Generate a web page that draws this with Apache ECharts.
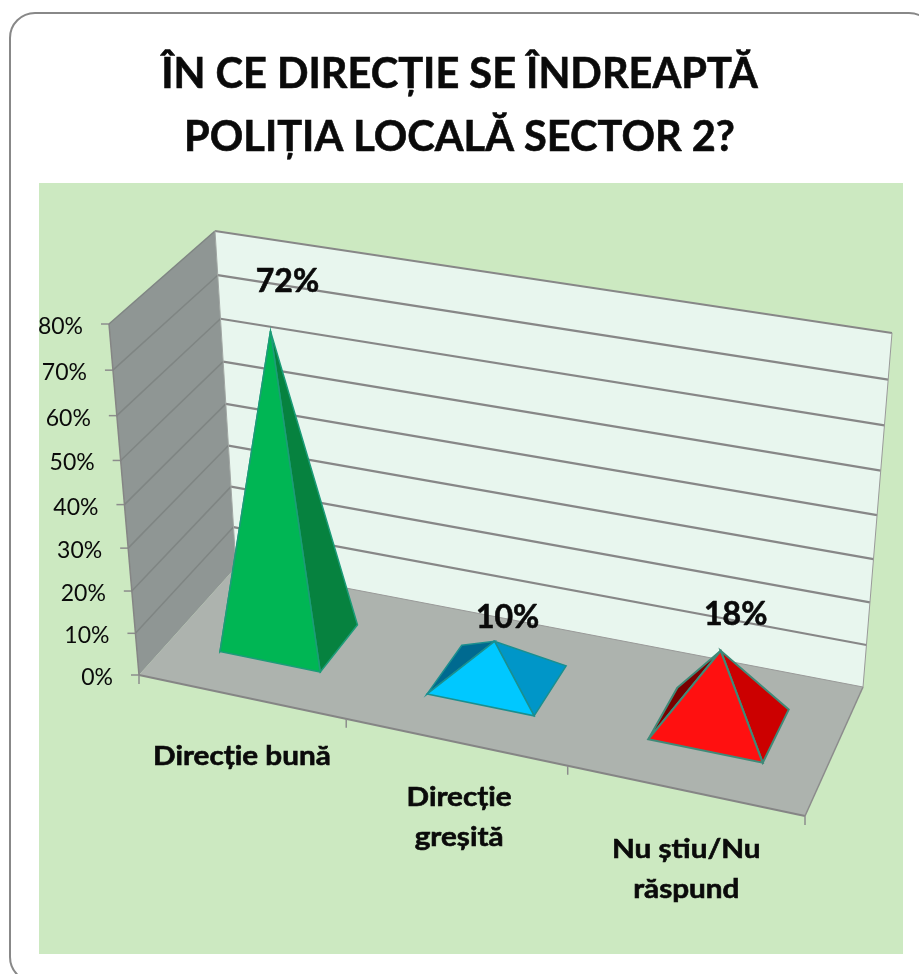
<!DOCTYPE html>
<html>
<head>
<meta charset="utf-8">
<style>
html, body { margin: 0; padding: 0; background: #fff; }
#chart { width: 919px; height: 974px; }
</style>
<script src="https://cdn.jsdelivr.net/npm/echarts@6/dist/echarts.min.js"></script>
</head>
<body>
<div id="chart"></div>
<script>
const categories = ['Direcție bună', 'Direcție\ngreșită', 'Nu știu/Nu\nrăspund'];
const values = [72, 10, 18];
const axisTicks = [0, 10, 20, 30, 40, 50, 60, 70, 80];
const titleText = 'ÎN CE DIRECȚIE SE ÎNDREAPTĂ\nPOLIȚIA LOCALĂ SECTOR 2?';

const font = 'Lato, "Noto Sans", sans-serif';
const frontColors = ['#00B654', '#00C8FF', '#FF1010'];
const sideColors = ['#06823F', '#0096C8', '#CC0000'];
const backColors = ['#05703A', '#006A90', '#7A0000'];
const edgeColors = ['#1C9C78', '#1A8F8F', '#3F8A78'];
const edgeWidths = [1.5, 1.5, 2];

// where the value labels and category labels sit relative to their anchor
const valueLabelShift = [[17, -50], [13, -24], [15, -36]];
const categoryLabelShift = [[1, 60], [4, 76], [2, 79]];

const chartDom = document.getElementById('chart');
const chart = echarts.init(chartDom);

// hidden cartesian grid, it only supplies the scales
const gridLeft = 100, gridTop = 324, gridWidth = 720, gridHeight = 351;

// box corners on screen, front-left, front-right, back-right, back-left
const floorQuad = [[139, 675], [805, 816], [863, 687], [236, 567]];
const topQuad = [[109, 324], [830, 445], [892, 333], [215, 231]];
const heightPerspective = 0.06;

function homography(q) {
    const dx1 = q[1][0] - q[2][0], dx2 = q[3][0] - q[2][0], sx = q[0][0] - q[1][0] + q[2][0] - q[3][0];
    const dy1 = q[1][1] - q[2][1], dy2 = q[3][1] - q[2][1], sy = q[0][1] - q[1][1] + q[2][1] - q[3][1];
    const den = dx1 * dy2 - dx2 * dy1;
    const g = (sx * dy2 - dx2 * sy) / den, h = (dx1 * sy - sx * dy1) / den;
    const a = q[1][0] - q[0][0] + g * q[1][0], b = q[3][0] - q[0][0] + h * q[3][0];
    const d = q[1][1] - q[0][1] + g * q[1][1], e = q[3][1] - q[0][1] + h * q[3][1];
    return (u, w) => {
        const n = g * u + h * w + 1;
        return [(a * u + b * w + q[0][0]) / n, (d * u + e * w + q[0][1]) / n];
    };
}
const floorAt = homography(floorQuad);
const topAt = homography(topQuad);

// u across the categories, w into the depth, v up the value axis (all 0..1)
function project(u, w, v) {
    const f = floorAt(u, w), t = topAt(u, w);
    const lift = v / (1 + heightPerspective * (1 - v));
    return [f[0] + (t[0] - f[0]) * lift, f[1] + (t[1] - f[1]) * lift];
}

function poly(points, fill, stroke, width) {
    return { type: 'polygon', shape: { points: points }, style: { fill: fill, stroke: stroke, lineWidth: width || 0 } };
}
function line(a, b, color, width) {
    return { type: 'line', shape: { x1: a[0], y1: a[1], x2: b[0], y2: b[1] }, style: { stroke: color, lineWidth: width, fill: null } };
}
function label(text, x, y, size, weight, align, stretch) {
    const bold = weight === 'bold';
    return {
        type: 'text', x: x, y: y, scaleX: stretch || 1,
        style: {
            text: text, fill: '#0a0a0a', font: weight + ' ' + size + 'px ' + font, align: align || 'center', verticalAlign: 'middle', lineHeight: 40,
            stroke: bold ? '#0a0a0a' : null, lineWidth: bold ? 0.6 : 0
        }
    };
}

// convert a value through the y axis into 0..1 height
function heightOf(api, val) {
    return (gridTop + gridHeight - api.coord([0, val])[1]) / gridHeight;
}
function acrossOf(api, idx) {
    return (api.coord([idx, 0])[0] - gridLeft) / gridWidth;
}

function renderBox(params, api) {
    const kids = [];
    kids.push(poly([project(0, 0, 0), project(0, 1, 0), project(0, 1, 1), project(0, 0, 1)], '#8F9694'));
    kids.push(poly([project(0, 1, 0), project(1, 1, 0), project(1, 1, 1), project(0, 1, 1)], '#E8F6EE'));
    kids.push(poly([project(0, 0, 0), project(1, 0, 0), project(1, 1, 0), project(0, 1, 0)], '#ADB3AE'));

    axisTicks.forEach(function (t) {
        const v = heightOf(api, t);
        if (t > 0) {
            kids.push(line(project(0, 0, v), project(0, 1, v), '#7F8583', 1.5));
            kids.push(line(project(0, 1, v), project(1, 1, v), '#878787', 2.2));
        }
        const p = project(0, 0, v);
        kids.push(line([p[0] - 8, p[1]], p, '#8C8C8C', 1.5));
        kids.push(label(t + '%', p[0] - 26, p[1] + 2.5, 23, 'normal', 'right'));
    });

    // outline
    kids.push(line(project(0, 0, 0), project(0, 0, 1), '#858585', 1.5));
    kids.push(line(project(0, 1, 0), project(0, 1, 1), '#A0A5A3', 1));
    kids.push(line(project(1, 1, 0), project(1, 1, 1), '#9A9A9A', 1));
    kids.push(line(project(0, 0, 0), project(1, 0, 0), '#858585', 2));
    kids.push(line(project(1, 0, 0), project(1, 1, 0), '#8C8C8C', 1.5));
    kids.push(line(project(0, 1, 0), project(1, 1, 0), '#9A9A9A', 1));

    // ticks under the front edge
    for (let k = 0; k <= categories.length; k++) {
        const p = project(k / categories.length, 0, 0);
        kids.push(line(p, [p[0], p[1] + 9], '#8C8C8C', 1.5));
    }
    return { type: 'group', children: kids };
}

const halfAcross = 0.082, depthStart = 0.3, depthEnd = 0.72, tipDepth = 0.48;

function renderPyramid(params, api) {
    const i = params.dataIndex;
    const u = acrossOf(api, i);
    const v = heightOf(api, api.value(1));
    const fl = project(u - halfAcross, depthStart, 0), fr = project(u + halfAcross, depthStart, 0);
    const br = project(u + halfAcross, depthEnd, 0), bl = project(u - halfAcross, depthEnd, 0);
    const tip = project(u, tipDepth, v);
    const edge = edgeColors[i], ew = edgeWidths[i];
    const shift = valueLabelShift[i];
    const cat = project(u, 0, 0);
    const catShift = categoryLabelShift[i];
    return {
        type: 'group',
        children: [
            poly([bl, tip, fl], backColors[i], edge, ew),
            poly([fr, br, tip], sideColors[i], edge, ew),
            poly([fl, fr, tip], frontColors[i], edge, ew),
            label(api.value(1) + '%', tip[0] + shift[0], tip[1] + shift[1], 32, 'bold'),
            label(categories[i], cat[0] + catShift[0], cat[1] + catShift[1], 26.5, 'bold', 'center', 1.12)
        ]
    };
}

chart.setOption({
    animation: false,
    backgroundColor: '#fff',
    title: {
        text: titleText,
        left: 'center',
        top: 38,
        textStyle: { fontFamily: font, fontWeight: 'bold', fontSize: 41.5, lineHeight: 63, color: '#0a0a0a', textBorderColor: '#0a0a0a', textBorderWidth: 0.6 }
    },
    graphic: [
        { type: 'rect', z: -10, shape: { x: 10, y: 13, width: 924, height: 969, r: 25 }, style: { fill: '#fff', stroke: '#888', lineWidth: 2 } },
        { type: 'rect', z: -9, shape: { x: 39, y: 183, width: 864, height: 771 }, style: { fill: '#CCE9C1' } }
    ],
    grid: { left: gridLeft, top: gridTop, width: gridWidth, height: gridHeight },
    xAxis: { type: 'category', data: categories, show: false },
    yAxis: { type: 'value', min: 0, max: 80, interval: 10, show: false },
    series: [
        { type: 'custom', coordinateSystem: 'cartesian2d', z: 2, silent: true, data: [[0, 0]], renderItem: renderBox, clip: false },
        { type: 'custom', coordinateSystem: 'cartesian2d', z: 3, silent: true, data: values.map((v, i) => [i, v]), encode: { x: 0, y: 1 }, renderItem: renderPyramid, clip: false }
    ]
});
</script>
</body>
</html>
